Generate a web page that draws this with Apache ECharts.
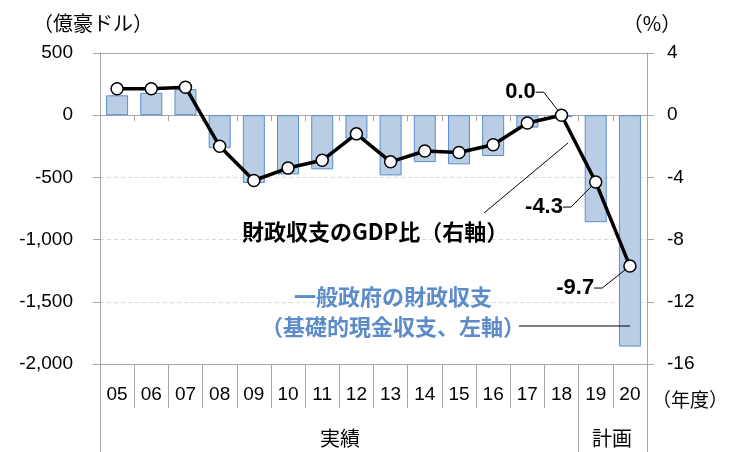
<!DOCTYPE html>
<html>
<head>
<meta charset="utf-8">
<script src="https://cdn.jsdelivr.net/npm/echarts@6/dist/echarts.min.js"></script>
<style>
html,body{margin:0;padding:0;background:#fff;}
#c{width:737px;height:452px;}
</style>
</head>
<body>
<div id="c"></div>
<script>
// ---- data ----
const categories = ['05','06','07','08','09','10','11','12','13','14','15','16','17','18','19','20'];
const balance = [160, 180, 210, -265, -545, -476, -435, -189, -484, -377, -395, -328, -100, -15, -860, -1860];
const gdpRatio = [1.7, 1.7, 1.8, -2.0, -4.2, -3.4, -2.9, -1.2, -3.0, -2.3, -2.4, -1.9, -0.5, 0.0, -4.3, -9.7];
const labelledIdx = [13, 14, 15];
const groupLabels = ['実績', '計画'];
const groupStart = [0, 14];

// ---- styling/layout ----
const NUM = '"Liberation Sans", Arial, sans-serif';
const JP = '"Noto Sans CJK JP", sans-serif';
const AX = '#a6a6a6';
const labelShift = {13: [-14, -23], 14: [-21, 25], 15: [-24, 22]};

const lineData = gdpRatio.map((v, i) => {
  if (labelledIdx.indexOf(i) >= 0) {
    return {
      value: v,
      label: {show: true, position: 'left', distance: 5,
        formatter: p => p.value.toFixed(1),
        fontFamily: NUM, fontSize: 22, fontWeight: 'bold', color: '#000'},
      labelLine: {show: true}
    };
  }
  return v;
});

const chart = echarts.init(document.getElementById('c'), null, {renderer: 'canvas'});
chart.setOption({
  animation: false,
  backgroundColor: '#fff',
  grid: {left: 100, right: 90, top: 53, bottom: 88, containLabel: false, outerBoundsMode: 'none'},
  xAxis: [
    { // labeled bottom axis
      type: 'category', data: categories, position: 'bottom',
      axisLine: {show: true, onZero: false, lineStyle: {color: AX, width: 1}},
      axisTick: {show: true, interval: 0, length: 44, lineStyle: {color: AX}},
      axisLabel: {interval: 0, margin: 21, fontFamily: NUM, fontSize: 19, color: '#000'},
      splitLine: {show: false}
    },
    { // group dividers
      type: 'category', data: categories, position: 'bottom',
      axisLine: {show: false, onZero: false},
      axisTick: {show: true, length: 88, lineStyle: {color: AX},
        interval: (i) => groupStart.indexOf(i) >= 0},
      axisLabel: {show: false}, splitLine: {show: false}
    },
    { // zero line
      type: 'category', data: categories, position: 'bottom',
      axisLine: {show: true, onZero: true, onZeroAxisIndex: 0, lineStyle: {color: AX, width: 1}},
      axisTick: {show: true, interval: 0, length: 6, lineStyle: {color: AX}},
      axisLabel: {show: false}, splitLine: {show: false}
    },
    { // top border
      type: 'category', data: categories, position: 'top',
      axisLine: {show: true, onZero: false, lineStyle: {color: AX, width: 1}},
      axisTick: {show: false}, axisLabel: {show: false}, splitLine: {show: false}
    }
  ],
  yAxis: [
    {
      type: 'value', min: -2000, max: 500, interval: 500, position: 'left',
      name: '（億豪ドル）', nameLocation: 'end', nameGap: 20,
      nameTextStyle: {fontFamily: JP, fontSize: 20, color: '#000', padding: [0, 14, 0, 0]},
      axisLine: {show: true, onZero: false, lineStyle: {color: AX}},
      axisTick: {show: true, length: 7, lineStyle: {color: AX}},
      axisLabel: {margin: 27, fontFamily: NUM, fontSize: 19, color: '#000',
        formatter: v => v.toLocaleString('en-US')},
      splitLine: {show: true, lineStyle: {color: '#d9d9d9', type: [4, 3], width: 1}}
    },
    {
      type: 'value', min: -16, max: 4, interval: 4, position: 'right',
      name: '（%）', nameLocation: 'end', nameGap: 20,
      nameTextStyle: {fontFamily: JP, fontSize: 20, color: '#000', padding: [0, 0, 0, 10]},
      axisLine: {show: true, onZero: false, lineStyle: {color: AX}},
      axisTick: {show: true, length: 7, lineStyle: {color: AX}},
      axisLabel: {margin: 20, fontFamily: NUM, fontSize: 19, color: '#000'},
      splitLine: {show: false}
    }
  ],
  series: [
    {
      type: 'bar', name: '一般政府の財政収支', data: balance,
      xAxisIndex: 0, yAxisIndex: 0, barWidth: 22, z: 2,
      itemStyle: {color: '#b9cde5', borderColor: '#5b8ccb', borderWidth: 1}
    },
    {
      type: 'line', name: '財政収支のGDP比', data: lineData,
      xAxisIndex: 0, yAxisIndex: 1, z: 5,
      symbol: 'circle', symbolSize: 12, showAllSymbol: true,
      lineStyle: {color: '#000', width: 3.5},
      itemStyle: {color: '#fff', borderColor: '#000', borderWidth: 1.5},
      labelLine: {show: true, length2: 8, lineStyle: {color: '#000', width: 1}},
      labelLayout: (p) => {
        const s = labelShift[p.dataIndex];
        return s ? {dx: s[0], dy: s[1]} : {};
      }
    }
  ],
  graphic: [
    {type: 'text', left: 242, top: 221, z: 10,
      style: {text: '財政収支のGDP比（右軸）', fontFamily: JP, fontSize: 22, fontWeight: 'bold', fill: '#000'}},
    {type: 'line', z: 10, shape: {x1: 484, y1: 213, x2: 568, y2: 143}, style: {stroke: '#000', lineWidth: 1}},
    {type: 'text', x: 393, y: 297, z: 10,
      style: {text: '一般政府の財政収支', fontFamily: JP, fontSize: 22, fontWeight: 'bold', fill: '#5b8bc9', align: 'center', verticalAlign: 'middle'}},
    {type: 'text', x: 393, y: 327, z: 10,
      style: {text: '（基礎的現金収支、左軸）', fontFamily: JP, fontSize: 22, fontWeight: 'bold', fill: '#5b8bc9', align: 'center', verticalAlign: 'middle'}},
    {type: 'line', z: 10, shape: {x1: 519, y1: 326, x2: 630, y2: 326}, style: {stroke: '#000', lineWidth: 1}},
    {type: 'text', x: 340, y: 438, z: 10,
      style: {text: groupLabels[0], fontFamily: JP, fontSize: 20, fill: '#000', align: 'center', verticalAlign: 'middle'}},
    {type: 'text', x: 612, y: 438, z: 10,
      style: {text: groupLabels[1], fontFamily: JP, fontSize: 20, fill: '#000', align: 'center', verticalAlign: 'middle'}},
    {type: 'text', x: 690, y: 400, z: 10,
      style: {text: '（年度）', fontFamily: JP, fontSize: 19, fill: '#000', align: 'center', verticalAlign: 'middle'}}
  ]
});
</script>
</body>
</html>
